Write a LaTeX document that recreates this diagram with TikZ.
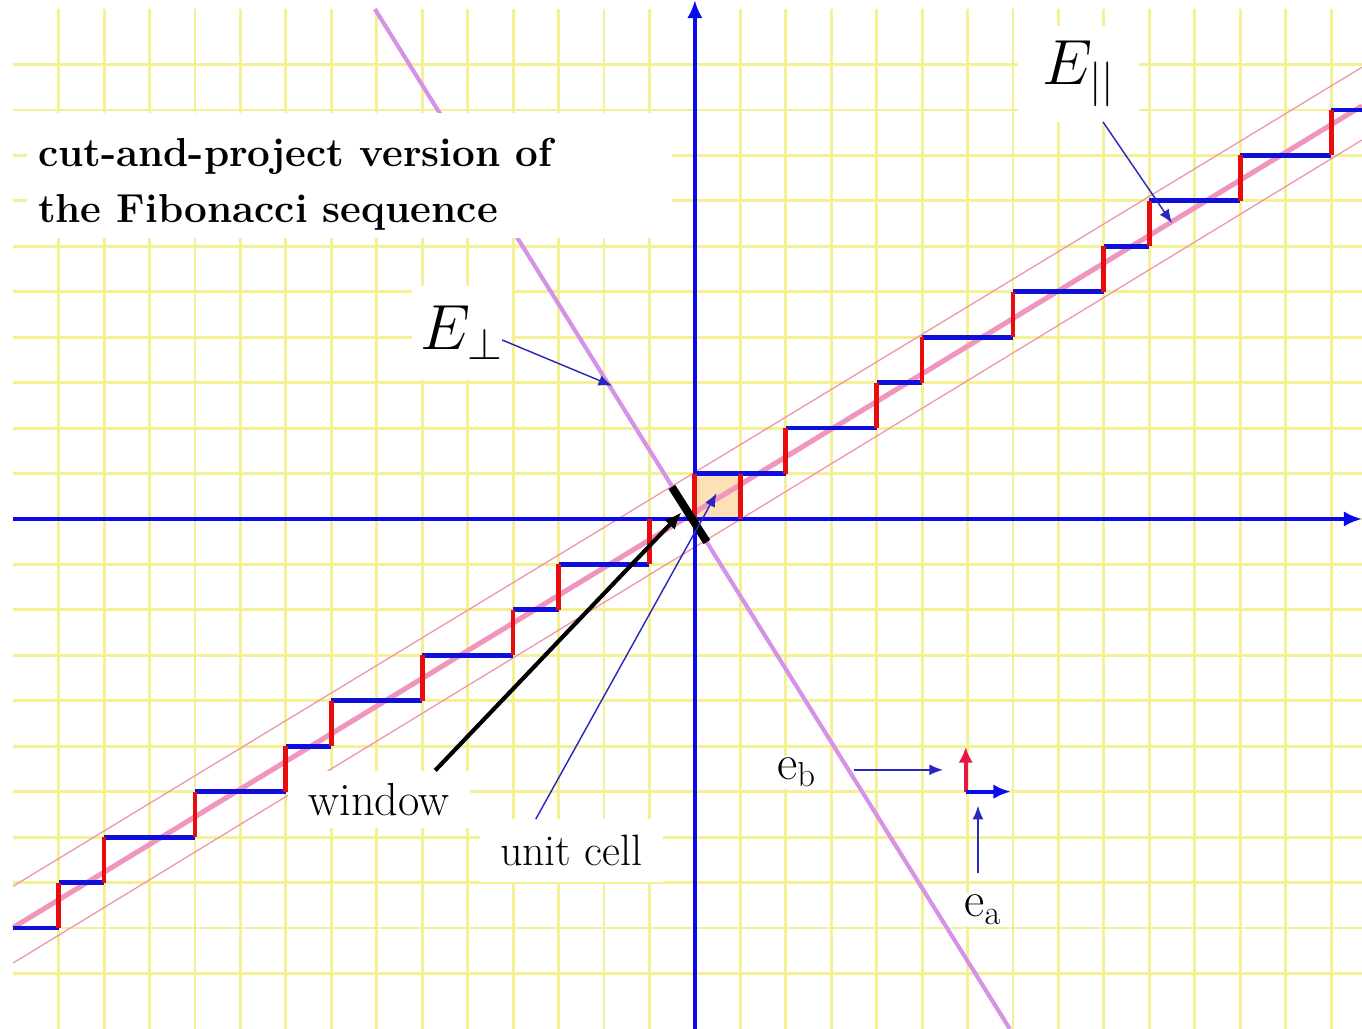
\RequirePackage{fix-cm}
\documentclass[tikz,border=0pt]{standalone}
\usepackage{fontspec}
\usepackage{tikz}
\usetikzlibrary{arrows.meta,calc}
\definecolor{fibgrid}{RGB}{244,240,150}
\definecolor{fibaxis}{RGB}{10,10,235}
\definecolor{fibblue}{RGB}{15,15,220}
\definecolor{fibred}{RGB}{232,12,12}
\definecolor{fibpink}{RGB}{240,150,190}
\definecolor{fibthin}{RGB}{238,150,170}
\definecolor{fibperp}{RGB}{214,146,230}
\definecolor{fibcell}{RGB}{252,224,182}
\definecolor{fibnote}{RGB}{40,40,190}
\definecolor{fibbasis}{RGB}{235,20,70}
\tikzstyle{gridline} = [fibgrid, line width=1.8pt]
\tikzstyle{axis} = [-{Latex[length=4mm,width=3.4mm]}, fibaxis, line width=2.4pt]
\tikzstyle{hstep} = [fibblue, line width=3pt]
\tikzstyle{vstep} = [fibred, line width=3pt]
\tikzstyle{note} = [-{Latex[length=3mm,width=2.4mm]}, fibnote, line width=0.9pt]
\tikzstyle{tag} = [fill=white, inner sep=2pt]

\begin{document}
\begin{tikzpicture}
\useasboundingbox (-15.29,-11.22) rectangle (14.68,11.42);
\foreach \x in {-14,...,14}
  \draw[gridline] (\x,-11.22) -- (\x,11.22);
\foreach \y in {-10,...,10}
  \draw[gridline] (-15,\y) -- (14.68,\y);

\fill[fibcell] (0,0) rectangle (1,1);
\draw[fibthin, line width=0.8pt] (-15,-8.08) -- (14.68,9.94);
\draw[fibthin, line width=0.8pt] (-15,-9.77) -- (14.68,8.34);
\draw[fibpink, line width=3.2pt] (-15,-8.99) -- (14.68,9.09);
\draw[fibperp, line width=2.6pt] (-7.04,11.22) -- (6.93,-11.22);

\node[tag, anchor=north west, minimum width=14.19cm, minimum height=2.75cm] (title) at (-14.70,8.95) {};
\node[anchor=west, align=left, inner sep=0pt, font=\bfseries\fontsize{25.3}{35.5}\selectfont] (titletext)
  at ([xshift=0.24cm,yshift=-0.2cm]title.west) {cut-and-project version of\\ the Fibonacci sequence};

\draw[axis] (-15,0) -- (14.68,0);
\draw[axis] (0,-11.22) -- (0,11.42);

\foreach \xa/\xb/\y in {-15/-14/-9, -14/-13/-8, -13/-11/-7, -11/-9/-6, -9/-8/-5, -8/-6/-4, -6/-4/-3,
  -4/-3/-2, -3/-1/-1, 0/2/1, 2/4/2, 4/5/3, 5/7/4, 7/9/5, 9/10/6, 10/12/7, 12/14/8, 14/14.68/9}
  \draw[hstep] (\xa,\y) -- (\xb,\y);
\foreach \x/\y in {-14/-9, -13/-8, -11/-7, -9/-6, -8/-5, -6/-4, -4/-3, -3/-2, -1/-1, 0/0, 1/0,
  2/1, 4/2, 5/3, 7/4, 9/5, 10/6, 12/7, 14/8}
  \draw[vstep] (\x,\y) -- (\x,\y+1);

\draw[black, line width=5pt] (-0.506,0.704) -- (0.264,-0.506);

\coordinate (basis) at (5.96,-6);
\draw[fibbasis, line width=2.4pt, -{Latex[length=3.4mm,width=3.2mm]}] (basis) -- ++(0,0.98);
\draw[fibaxis, line width=2.4pt, -{Latex[length=3.8mm,width=3.2mm]}] (basis) -- ++(0.99,0);

\node[tag, minimum width=2.66cm, minimum height=2.11cm, font=\fontsize{40}{48}\selectfont] (epar) at (8.45,9.8) {$E_{||}$};
\node[tag, minimum width=2.2cm, minimum height=2.07cm, font=\fontsize{40}{48}\selectfont] (eperp) at (-5.13,4.1) {$E_\perp$};
\node[tag, minimum width=4cm, minimum height=1.26cm, font=\fontsize{29}{34}\selectfont] (window) at (-6.95,-6.17) {window};
\node[tag, minimum width=4.03cm, minimum height=1.38cm, font=\fontsize{27.5}{32}\selectfont] (cell) at (-2.72,-7.3) {unit cell};
\node[tag, inner sep=1pt, font=\fontsize{31}{36}\selectfont] (eb) at (2.24,-5.57) {$\mathrm{e}_{\mathrm{b}}$};
\node[tag, inner sep=1pt, font=\fontsize{31}{36}\selectfont] (ea) at (6.34,-8.6) {$\mathrm{e}_{\mathrm{a}}$};

\coordinate (epartip) at (10.5,6.51);
\coordinate (eperptip) at (-1.82,2.93);
\coordinate (wintip) at (-0.29,0.15);
\coordinate (celltip) at (0.48,0.57);
\coordinate (ebtip) at (5.46,-5.52);
\coordinate (eatip) at (6.23,-6.31);

\draw[note] ([xshift=5.3mm]epar.south) -- (epartip);
\draw[note] ([xshift=-2.2mm,yshift=-1.6mm]eperp.east) -- (eperptip);
\draw[-{Latex[length=3.8mm,width=3.2mm]}, black, line width=2.6pt] ([xshift=-7.7mm]window.north east) -- (wintip);
\draw[note] ([xshift=-7.8mm]cell.north) -- (celltip);
\draw[note, shorten <=8mm] (eb.east |- ebtip) -- (ebtip);
\draw[note, shorten <=4.5mm] (ea.north -| eatip) -- (eatip);
\end{tikzpicture}
\end{document}
